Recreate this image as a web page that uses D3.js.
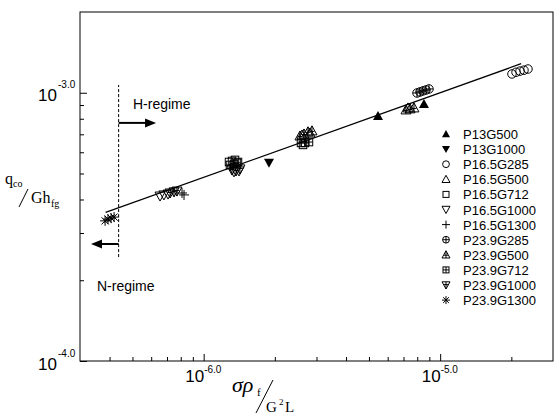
<!DOCTYPE html>
<html><head><meta charset="utf-8">
<script src="https://cdn.jsdelivr.net/npm/d3@7"></script>
<style>html,body{margin:0;padding:0;background:#fff;}svg{display:block;}</style>
</head><body>
<svg id="c" width="555" height="414"></svg>
<script>
// ---------- data ----------
const seriesNames = ["P13G500","P13G1000","P16.5G285","P16.5G500","P16.5G712","P16.5G1000","P16.5G1300","P23.9G285","P23.9G500","P23.9G712","P23.9G1000","P23.9G1300"];
const seriesMarkers = ["triUpFill","triDownFill","circle","triUp","square","triDown","plus","circlePlus","triUpCross","squarePlus","triDownPlus","asterisk"];

const P13G500_x = [5.46e-6, 8.54e-6];
const P13G500_y = [8.19e-4, 9.08e-4];
const P13G1000_x = [1.889e-6];
const P13G1000_y = [5.48e-4];
const P16_5G285_x = [2.012e-5, 2.093e-5, 2.176e-5, 2.262e-5, 2.351e-5];
const P16_5G285_y = [1.175e-3, 1.192e-3, 1.204e-3, 1.214e-3, 1.226e-3];
const P16_5G500_x = [2.605e-6, 2.815e-6, 7.31e-6];
const P16_5G500_y = [6.96e-4, 7.08e-4, 8.78e-4];
const P16_5G712_x = [1.280e-6, 1.318e-6, 1.357e-6, 1.397e-6, 2.630e-6];
const P16_5G712_y = [5.52e-4, 5.57e-4, 5.62e-4, 5.52e-4, 6.39e-4];
const P16_5G1000_x = [6.54e-7, 6.79e-7, 7.07e-7, 1.344e-6, 1.411e-6];
const P16_5G1000_y = [4.12e-4, 4.16e-4, 4.19e-4, 5.07e-4, 5.11e-4];
const P16_5G1300_x = [8.10e-7, 8.26e-7];
const P16_5G1300_y = [4.23e-4, 4.16e-4];
const P23_9G285_x = [7.98e-6, 8.22e-6, 8.46e-6, 8.71e-6, 8.97e-6];
const P23_9G285_y = [9.98e-4, 1.007e-3, 1.016e-3, 1.024e-3, 1.033e-3];
const P23_9G500_x = [2.554e-6, 2.656e-6, 2.761e-6, 2.871e-6, 7.17e-6, 7.46e-6, 7.75e-6];
const P23_9G500_y = [6.90e-4, 7.02e-4, 7.15e-4, 7.21e-4, 8.63e-4, 8.71e-4, 8.78e-4];
const P23_9G712_x = [1.292e-6, 1.344e-6, 1.383e-6, 2.580e-6, 2.682e-6, 2.788e-6];
const P23_9G712_y = [5.38e-4, 5.43e-4, 5.48e-4, 6.50e-4, 6.50e-4, 6.55e-4];
const P23_9G1000_x = [7.21e-7, 7.49e-7, 7.71e-7, 1.318e-6, 1.370e-6, 1.424e-6];
const P23_9G1000_y = [4.23e-4, 4.27e-4, 4.30e-4, 5.15e-4, 5.11e-4, 5.20e-4];
const P23_9G1300_x = [3.83e-7, 3.94e-7, 4.06e-7, 4.18e-7];
const P23_9G1300_y = [3.33e-4, 3.38e-4, 3.41e-4, 3.44e-4];

const seriesX = [P13G500_x,P13G1000_x,P16_5G285_x,P16_5G500_x,P16_5G712_x,P16_5G1000_x,P16_5G1300_x,P23_9G285_x,P23_9G500_x,P23_9G712_x,P23_9G1000_x,P23_9G1300_x];
const seriesY = [P13G500_y,P13G1000_y,P16_5G285_y,P16_5G500_y,P16_5G712_y,P16_5G1000_y,P16_5G1300_y,P23_9G285_y,P23_9G500_y,P23_9G712_y,P23_9G1000_y,P23_9G1300_y];

// fitted correlation line
const fitX = [3.85e-7, 2.2e-5];
const fitY = [3.58e-4, 1.283e-3];

// regime boundary and arrows
const boundaryX = 4.37e-7;
const boundaryY = [2.44e-4, 1.069e-3];
const hArrowY = 7.72e-4, hArrowEndX = 6.29e-7;
const nArrowY = 2.73e-4, nArrowEndX = 3.34e-7;

// axes
const xDomain = [3e-7, 3e-5];
const yDomain = [1e-4, 2e-3];
const xMajorTicks = [1e-6, 1e-5];
const xMajorExp = ["-6.0", "-5.0"];
const xMinorTicks = [4e-7,5e-7,6e-7,7e-7,8e-7,9e-7,2e-6,3e-6,4e-6,5e-6,6e-6,7e-6,8e-6,9e-6,2e-5];
const yMajorTicks = [1e-3, 1e-4];
const yMajorExp = ["-3.0", "-4.0"];
const yMinorTicks = [2e-4,3e-4,4e-4,5e-4,6e-4,7e-4,8e-4,9e-4];

// ---------- layout ----------
const L = 80, T = 12, R = 553, B = 361;
const svg = d3.select("#c");
const x = d3.scaleLog().domain(xDomain).range([L, R]);
const y = d3.scaleLog().domain(yDomain).range([B, T]);
const FONT = "Liberation Sans, Arial, sans-serif";
const SERIF = "Liberation Serif, Times New Roman, serif";

// frame
svg.append("rect").attr("x", L).attr("y", T).attr("width", R - L).attr("height", B - T)
  .attr("fill", "none").attr("stroke", "#000").attr("stroke-width", 1);

// x axis
const gx = svg.append("g").attr("transform", `translate(0,${B})`);
gx.call(d3.axisBottom(x).tickValues(xMinorTicks).tickSize(-4).tickFormat(""))
  .call(g => g.select(".domain").remove());
const gxM = svg.append("g").attr("transform", `translate(0,${B})`);
gxM.call(d3.axisBottom(x).tickValues(xMajorTicks).tickSize(-7).tickFormat(""))
  .call(g => g.select(".domain").remove());
gxM.selectAll(".tick").each(function(d, i) {
  d3.select(this).append("text").attr("fill", "#000").attr("font-family", FONT)
    .attr("text-anchor", "end").attr("x", 0).attr("y", 21).attr("font-size", 17).text("10");
  d3.select(this).append("text").attr("fill", "#000").attr("font-family", FONT)
    .attr("text-anchor", "start").attr("x", 0).attr("y", 12).attr("font-size", 10).text(xMajorExp[i]);
});
svg.selectAll(".tick line").attr("stroke", "#000").attr("stroke-width", 1);

// y axis
const gy = svg.append("g").attr("transform", `translate(${L},0)`);
gy.call(d3.axisLeft(y).tickValues(yMinorTicks).tickSize(-4).tickFormat(""))
  .call(g => g.select(".domain").remove());
const gyM = svg.append("g").attr("transform", `translate(${L},0)`);
gyM.call(d3.axisLeft(y).tickValues(yMajorTicks).tickSize(-7).tickFormat(""))
  .call(g => g.select(".domain").remove());
gyM.selectAll(".tick").each(function(d, i) {
  d3.select(this).append("text").attr("fill", "#000").attr("font-family", FONT)
    .attr("text-anchor", "end").attr("x", -23).attr("y", 8).attr("font-size", 17).text("10");
  d3.select(this).append("text").attr("fill", "#000").attr("font-family", FONT)
    .attr("text-anchor", "start").attr("x", -22).attr("y", -5).attr("font-size", 10).text(yMajorExp[i]);
});
svg.selectAll(".tick line").attr("stroke", "#000").attr("stroke-width", 1);

// axis titles
const xt = svg.append("g");
xt.append("text").attr("x", 232).attr("y", 392).attr("font-family", SERIF).attr("font-style", "italic")
  .attr("font-size", 22).text("σρ");
xt.append("text").attr("x", 257).attr("y", 396).attr("font-family", SERIF).attr("font-size", 11).text("f");
xt.append("line").attr("x1", 273).attr("y1", 380).attr("x2", 256).attr("y2", 413).attr("stroke", "#000").attr("stroke-width", 1);
xt.append("text").attr("x", 266).attr("y", 412).attr("font-family", SERIF).attr("font-size", 15).text("G");
xt.append("text").attr("x", 279).attr("y", 405).attr("font-family", SERIF).attr("font-size", 9).text("2");
xt.append("text").attr("x", 285).attr("y", 412).attr("font-family", SERIF).attr("font-size", 15).text("L");

const yt = svg.append("g");
yt.append("text").attr("x", 5).attr("y", 184).attr("font-family", SERIF).attr("font-size", 16).text("q");
yt.append("text").attr("x", 13).attr("y", 187).attr("font-family", SERIF).attr("font-size", 10).text("co");
yt.append("line").attr("x1", 28).attr("y1", 189).attr("x2", 19).attr("y2", 207).attr("stroke", "#000").attr("stroke-width", 1);
yt.append("text").attr("x", 31).attr("y", 203).attr("font-family", SERIF).attr("font-size", 16).text("Gh");
yt.append("text").attr("x", 51).attr("y", 207).attr("font-family", SERIF).attr("font-size", 10).text("fg");

// fit line
svg.append("path").attr("d", d3.line().x(d => x(d[0])).y(d => y(d[1]))(fitX.map((v, i) => [v, fitY[i]])))
  .attr("stroke", "#000").attr("stroke-width", 1.3).attr("fill", "none");

// boundary dashed line
svg.append("line").attr("x1", x(boundaryX)).attr("x2", x(boundaryX))
  .attr("y1", y(boundaryY[0])).attr("y2", y(boundaryY[1]))
  .attr("stroke", "#000").attr("stroke-width", 1).attr("stroke-dasharray", "3,2");

function arrow(x1, x2, yy) {
  const dir = Math.sign(x2 - x1);
  svg.append("line").attr("x1", x1).attr("x2", x2 - dir * 8).attr("y1", yy).attr("y2", yy)
    .attr("stroke", "#000").attr("stroke-width", 2);
  svg.append("path").attr("d", `M${x2},${yy} L${x2 - dir * 11},${yy - 4.5} L${x2 - dir * 11},${yy + 4.5} Z`).attr("fill", "#000");
}
arrow(x(boundaryX), x(hArrowEndX), y(hArrowY));
arrow(x(boundaryX), x(nArrowEndX), y(nArrowY));
svg.append("text").attr("x", 133).attr("y", 109).attr("font-family", FONT).attr("font-size", 14).text("H-regime");
svg.append("text").attr("x", 97).attr("y", 291).attr("font-family", FONT).attr("font-size", 14).text("N-regime");

// markers
function drawMarker(g, type, s) {
  const h = s / 2;
  const triU = `M0,${-h} L${h},${h * 0.8} L${-h},${h * 0.8} Z`;
  const triD = `M0,${h} L${h},${-h * 0.8} L${-h},${-h * 0.8} Z`;
  const st = { stroke: "#000", "stroke-width": 1 };
  const ap = (sel) => { for (const k in st) sel.attr(k, st[k]); return sel; };
  switch (type) {
    case "triUpFill": g.append("path").attr("d", triU).attr("fill", "#000"); break;
    case "triDownFill": g.append("path").attr("d", triD).attr("fill", "#000"); break;
    case "circle": ap(g.append("circle").attr("r", h * 0.85).attr("fill", "none")); break;
    case "triUp": ap(g.append("path").attr("d", triU).attr("fill", "none")); break;
    case "triDown": ap(g.append("path").attr("d", triD).attr("fill", "none")); break;
    case "square": ap(g.append("rect").attr("x", -h * 0.75).attr("y", -h * 0.75).attr("width", h * 1.5).attr("height", h * 1.5).attr("fill", "none")); break;
    case "plus": ap(g.append("path").attr("d", `M${-h},0 H${h} M0,${-h} V${h}`)); break;
    case "circlePlus": ap(g.append("circle").attr("r", h * 0.85).attr("fill", "none"));
      ap(g.append("path").attr("d", `M${-h * 0.85},0 H${h * 0.85} M0,${-h * 0.85} V${h * 0.85}`)); break;
    case "triUpCross": ap(g.append("path").attr("d", triU).attr("fill", "none"));
      ap(g.append("path").attr("d", `M0,${-h} V${h * 0.8} M${-h * 0.5},${h * 0.1} H${h * 0.5}`)); break;
    case "squarePlus": ap(g.append("rect").attr("x", -h * 0.75).attr("y", -h * 0.75).attr("width", h * 1.5).attr("height", h * 1.5).attr("fill", "none"));
      ap(g.append("path").attr("d", `M${-h * 0.75},0 H${h * 0.75} M0,${-h * 0.75} V${h * 0.75}`)); break;
    case "triDownPlus": ap(g.append("path").attr("d", triD).attr("fill", "none"));
      ap(g.append("path").attr("d", `M0,${h} V${-h * 0.8} M${-h * 0.5},${-h * 0.1} H${h * 0.5}`)); break;
    case "asterisk": { const a = h * 0.72;
      ap(g.append("path").attr("d", `M${-h},0 H${h} M0,${-h} V${h} M${-a},${-a} L${a},${a} M${-a},${a} L${a},${-a}`)); break; }
  }
}

seriesNames.forEach((name, si) => {
  const pts = seriesX[si].map((v, i) => [v, seriesY[si][i]]);
  const g = svg.append("g").attr("class", "series");
  g.selectAll("g").data(pts).enter().append("g")
    .attr("transform", d => `translate(${x(d[0])},${y(d[1])})`)
    .each(function() { drawMarker(d3.select(this), seriesMarkers[si], 10); });
});

// legend
const lg = svg.append("g").attr("transform", "translate(446,134)");
seriesNames.forEach((name, i) => {
  const row = lg.append("g").attr("transform", `translate(0,${i * 15.1})`);
  drawMarker(row.append("g"), seriesMarkers[i], 8);
  row.append("text").attr("x", 17).attr("y", 5).attr("font-family", FONT).attr("font-size", 13).text(name);
});
</script>
</body></html>
